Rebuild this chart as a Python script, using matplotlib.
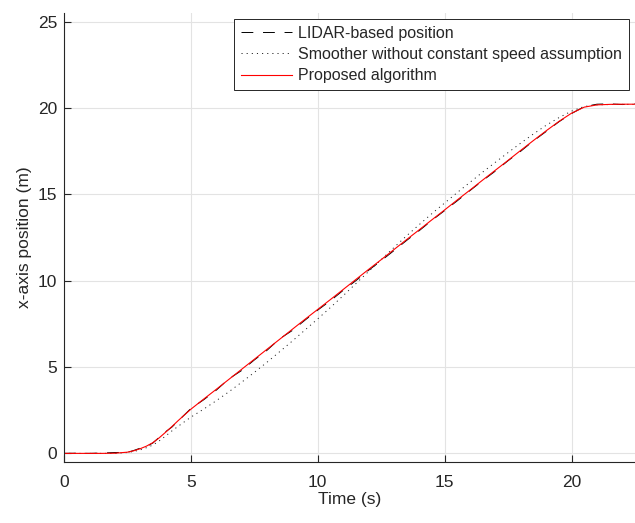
import matplotlib
matplotlib.use('Agg')
import matplotlib.pyplot as plt

# time samples (s)
time_s = [0.0, 0.5, 1.0, 1.5, 2.0, 2.5, 2.75, 3.0, 3.25, 3.5, 3.75, 4.0, 4.25, 4.5,
          5.0, 5.5, 6.0, 6.5, 7.0, 7.5, 8.0, 8.5, 9.0, 9.5,
          10.0, 10.5, 11.0, 11.5, 12.0, 12.5, 13.0, 13.5, 14.0, 14.5,
          15.0, 15.5, 16.0, 16.5, 17.0, 17.5, 18.0, 18.5, 19.0, 19.5,
          20.0, 20.5, 21.0, 21.5, 22.0, 22.5]

# proposed algorithm (red)
proposed = [0.0, 0.0, 0.0, 0.0, 0.01, 0.07, 0.15, 0.27, 0.42, 0.62, 0.9, 1.22, 1.55, 1.9,
            2.56, 3.14, 3.71, 4.29, 4.87, 5.45, 6.03, 6.61, 7.19, 7.77,
            8.34, 8.91, 9.49, 10.07, 10.65, 11.22, 11.8, 12.38, 12.95, 13.53,
            14.1, 14.68, 15.25, 15.83, 16.4, 16.97, 17.55, 18.12, 18.68, 19.22,
            19.7, 20.05, 20.18, 20.21, 20.22, 20.22]

# LIDAR-based position (black dashed)
lidar = [0.0, 0.01, 0.0, 0.02, 0.05, 0.06, 0.17, 0.3, 0.4, 0.6, 0.93, 1.25, 1.52, 1.88,
         2.6, 3.1, 3.66, 4.32, 4.8, 5.41, 5.97, 6.64, 7.12, 7.72,
         8.3, 8.84, 9.44, 10.0, 10.6, 11.16, 11.74, 12.33, 12.9, 13.5,
         14.06, 14.63, 15.22, 15.8, 16.35, 16.95, 17.5, 18.1, 18.64, 19.2,
         19.68, 20.08, 20.22, 20.24, 20.2, 20.24]

# smoother without constant speed assumption (black dotted)
smoother = [0.0, 0.0, 0.0, 0.0, 0.0, 0.05, 0.11, 0.2, 0.33, 0.48, 0.72, 1.0, 1.3, 1.57,
            2.1, 2.56, 3.05, 3.57, 4.12, 4.69, 5.28, 5.89, 6.51, 7.15,
            7.79, 8.45, 9.13, 9.83, 10.53, 11.22, 11.92, 12.6, 13.25, 13.89,
            14.5, 15.11, 15.7, 16.29, 16.86, 17.42, 17.97, 18.5, 19.0, 19.44,
            19.82, 20.09, 20.18, 20.2, 20.21, 20.21]

x_ticks = [0, 5, 10, 15, 20]
y_ticks = [0, 5, 10, 15, 20, 25]

plt.rcParams['font.family'] = ['Liberation Sans', 'DejaVu Sans']
plt.rcParams['lines.scale_dashes'] = False

fig = plt.figure(figsize=(6.35, 5.23), dpi=100)
ax = fig.add_axes([0.1008, 0.1166, 0.8992, 0.8585])

ax.plot(time_s, lidar, color='black', lw=0.7, linestyle=(0, (8.5, 7)),
        label='LIDAR-based position')
ax.plot(time_s, smoother, color='#222222', lw=0.7, linestyle=(0, (0.8, 2.9)),
        label='Smoother without constant speed assumption')
ax.plot(time_s, proposed, color='red', lw=0.8, label='Proposed algorithm')

ax.set_xlim(0, 22.5)
ax.set_ylim(-0.5, 25.5)
ax.set_xticks(x_ticks)
ax.set_yticks(y_ticks)

ax.grid(True, color='#e3e3e3', lw=0.8)
ax.set_axisbelow(True)
for side in ['top', 'right']:
    ax.spines[side].set_visible(False)
for side in ['left', 'bottom']:
    ax.spines[side].set_color('#262626')
    ax.spines[side].set_linewidth(0.8)

ax.tick_params(direction='in', length=5, width=0.8, colors='#262626',
               labelsize=12.5)
ax.tick_params(axis='x', pad=9)
ax.tick_params(axis='y', pad=5)

ax.set_xlabel('Time (s)', fontsize=12.5, color='#262626', labelpad=2)
ax.set_ylabel('x-axis position (m)', fontsize=12.5, color='#262626', labelpad=4)

leg = ax.legend(loc='upper right', bbox_to_anchor=(0.989, 0.986),
                borderaxespad=0, fontsize=11.5, fancybox=False,
                handlelength=3.2, handletextpad=0.4, labelspacing=0.38,
                borderpad=0.42, framealpha=1)
leg.get_frame().set_edgecolor('#262626')
leg.get_frame().set_linewidth(0.7)
for txt in leg.get_texts():
    txt.set_color('#262626')

fig.savefig('out.png', dpi=100)
